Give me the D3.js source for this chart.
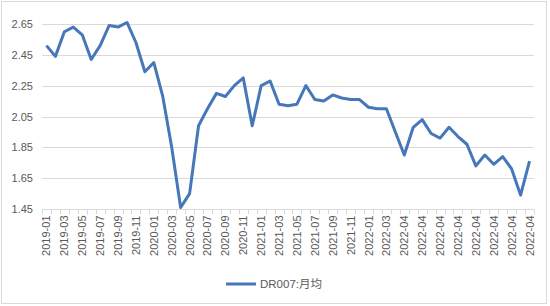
<!DOCTYPE html>
<html lang="zh">
<head>
<meta charset="UTF-8">
<script src="https://cdn.jsdelivr.net/npm/d3@7"></script>
<style>
  body { margin: 0; background: #fff; }
  svg { display: block; font-family: "Liberation Sans", "Noto Sans CJK SC", sans-serif; }
</style>
</head>
<body>
<script>
// 月份：2019-01 .. 2022-03，之后的类目标签都显示为 2022-04
const months = [];
for (let y = 2019; y <= 2022; y++) {
  for (let m = 1; m <= 12; m++) {
    if (y === 2022 && m > 3) break;
    months.push(y + '-' + String(m).padStart(2, '0'));
  }
}
const tailLabels = new Array(16).fill('2022-04');
const categories = months.concat(tailLabels);

const dr007 = [
  2.51, 2.44, 2.60, 2.63, 2.58, 2.42, 2.51, 2.64, 2.63, 2.66,
  2.53, 2.34, 2.40, 2.18, 1.85, 1.46, 1.55, 1.99, 2.10, 2.20,
  2.18, 2.25, 2.30, 1.99, 2.25, 2.28, 2.13, 2.12, 2.13, 2.25,
  2.16, 2.15, 2.19, 2.17, 2.16, 2.16, 2.11, 2.10, 2.10, 1.95,
  1.80, 1.98, 2.03, 1.94, 1.91, 1.98, 1.92, 1.87, 1.73, 1.80,
  1.74, 1.79, 1.71, 1.54, 1.76
];
const yTicks = [1.45, 1.65, 1.85, 2.05, 2.25, 2.45, 2.65];
const seriesName = 'DR007:月均';

const W = 550, H = 306;
const m = { left: 42, right: 16, top: 24, bottom: 97 };

const svg = d3.select('body').append('svg')
  .attr('width', W).attr('height', H);

// 外框
svg.append('rect')
  .attr('x', 1.5).attr('y', 1.5)
  .attr('width', 545).attr('height', 302)
  .attr('fill', '#fff').attr('stroke', '#d9d9d9');

const x = d3.scaleBand()
  .domain(d3.range(categories.length))
  .range([m.left, W - m.right]);

const y = d3.scaleLinear()
  .domain([1.45, 2.65])
  .range([H - m.bottom, m.top]);

// 网格线
svg.append('g')
  .selectAll('line')
  .data(yTicks.slice(1))
  .join('line')
  .attr('x1', m.left).attr('x2', W - m.right)
  .attr('y1', d => Math.round(y(d)) + 0.5)
  .attr('y2', d => Math.round(y(d)) + 0.5)
  .attr('stroke', '#d9d9d9').attr('stroke-width', 1);

// y 轴
const yAxis = svg.append('g')
  .attr('transform', `translate(${m.left},0)`)
  .call(d3.axisLeft(y).tickValues(yTicks).tickFormat(d3.format('.2f')).tickSize(0).tickPadding(9));
yAxis.select('.domain').remove();
yAxis.selectAll('text').attr('fill', '#595959').style('font-size', '11px');

// x 轴
const baseY = Math.round(y(1.45)) + 0.5;
svg.append('line')
  .attr('x1', m.left).attr('x2', W - m.right)
  .attr('y1', baseY).attr('y2', baseY)
  .attr('stroke', '#d9d9d9');

svg.append('g')
  .selectAll('line')
  .data(d3.range(categories.length + 1))
  .join('line')
  .attr('x1', d => Math.round(m.left + d * x.step()) + 0.5)
  .attr('x2', d => Math.round(m.left + d * x.step()) + 0.5)
  .attr('y1', baseY).attr('y2', baseY + 5)
  .attr('stroke', '#d9d9d9');

svg.append('g')
  .selectAll('text')
  .data(d3.range(0, categories.length, 2))
  .join('text')
  .attr('transform', d => `translate(${x(d) + x.bandwidth() / 2 + 4},${baseY + 6}) rotate(-90)`)
  .attr('text-anchor', 'end')
  .attr('fill', '#595959')
  .style('font-size', '11px')
  .text(d => categories[d]);

// 折线
const line = d3.line()
  .x((d, i) => x(i) + x.bandwidth() / 2)
  .y(d => y(d));

svg.append('path')
  .datum(dr007)
  .attr('d', line)
  .attr('fill', 'none')
  .attr('stroke', '#4677b9')
  .attr('stroke-width', 3)
  .attr('stroke-linejoin', 'round');

// 图例
const lg = svg.append('g').attr('transform', 'translate(226,284)');
lg.append('line')
  .attr('x1', 0).attr('x2', 30)
  .attr('stroke', '#4677b9').attr('stroke-width', 3);
lg.append('text')
  .attr('x', 34).attr('y', 4)
  .attr('fill', '#595959')
  .style('font-size', '11.5px')
  .text(seriesName);
</script>
</body>
</html>
